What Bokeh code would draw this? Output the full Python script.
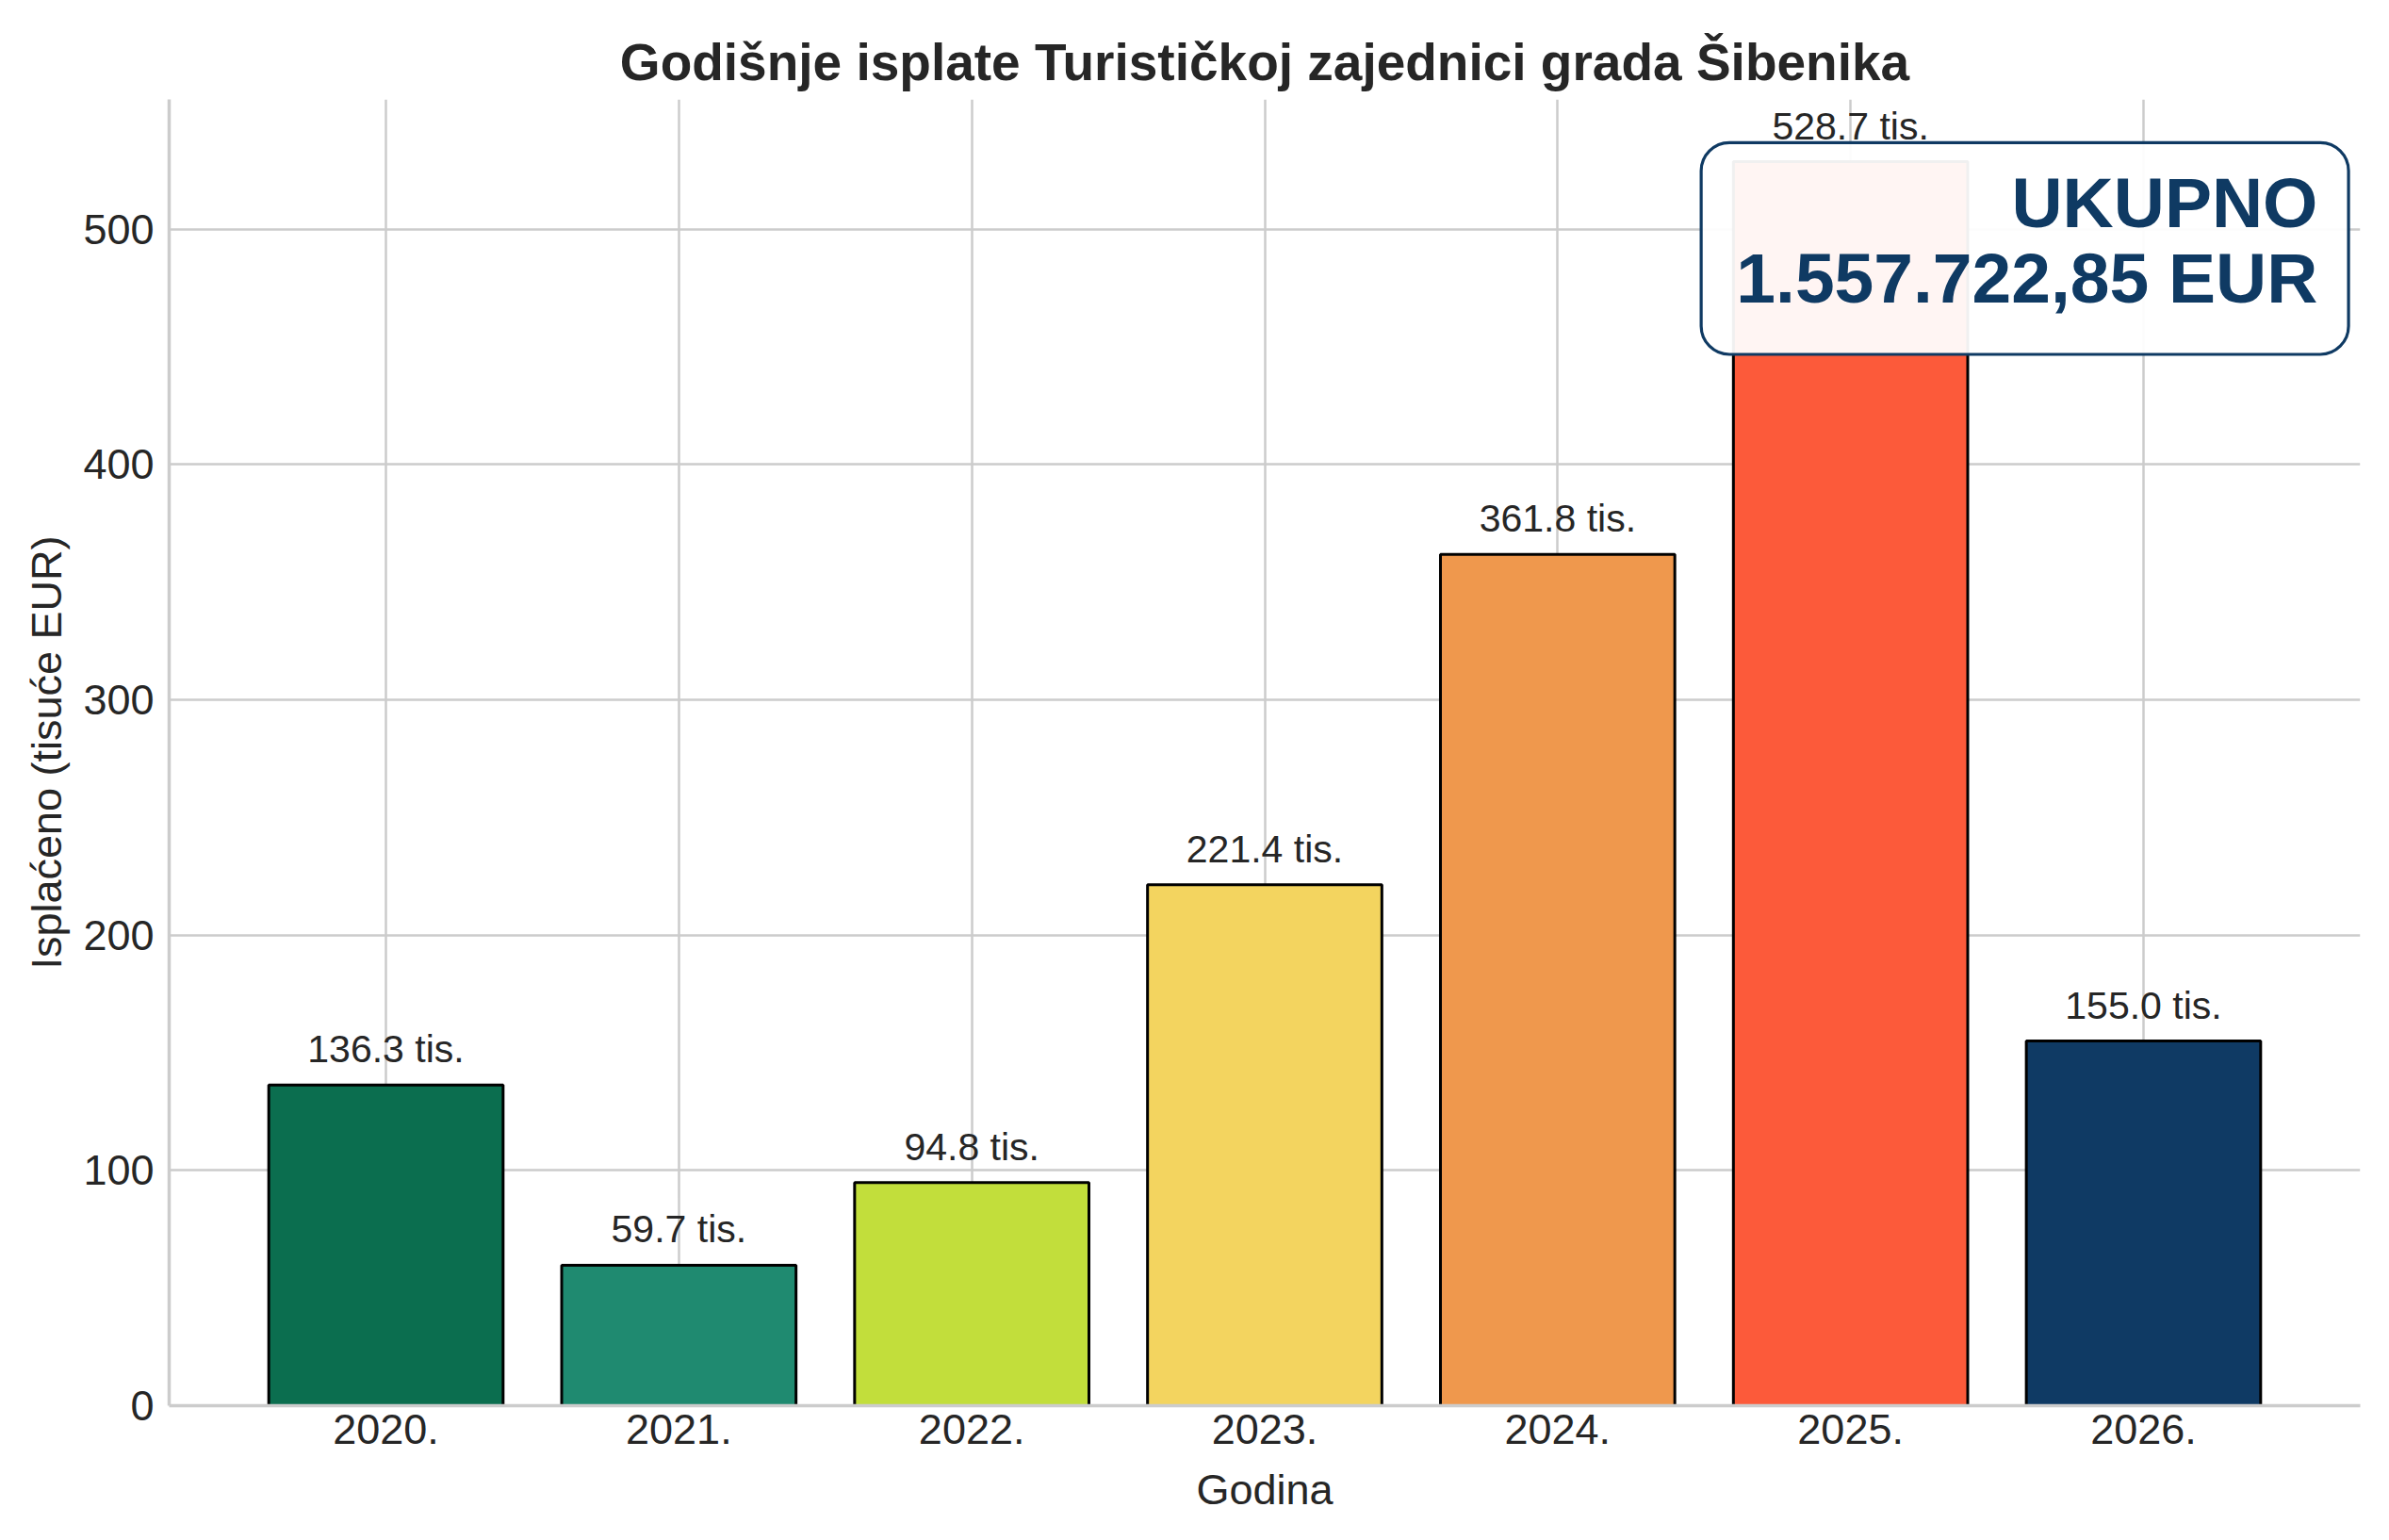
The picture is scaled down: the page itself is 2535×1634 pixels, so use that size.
from bokeh.plotting import figure
from bokeh.models import Range1d, FixedTicker, BoxAnnotation, Label, ColumnDataSource
from bokeh.core.properties import value
from bokeh.embed import file_html
from bokeh.resources import INLINE

years = ["2020.", "2021.", "2022.", "2023.", "2024.", "2025.", "2026."]
paid_k = [136.3, 59.7, 94.8, 221.4, 361.8, 528.7, 155.0]
bar_colors = ["#0B6E4F", "#1F8A70", "#C2DE3B", "#F3D45F", "#EF984D", "#FC5A3A", "#0F3A64"]
y_ticks = [0, 100, 200, 300, 400, 500]
title_text = "Godišnje isplate Turističkoj zajednici grada Šibenika"
total_line1 = "UKUPNO"
total_line2 = "1.557.722,85 EUR"

FONT = "Liberation Sans"
TXT = "#262626"
GRID = "#cccccc"
NAVY = "#0F3A63"

idx = list(range(len(years)))
ymax = max(paid_k) * 1.05
labels = [f"{v:.1f} tis." for v in paid_k]
label_y = [v + ymax * 0.0274 for v in paid_k]

src = ColumnDataSource(dict(x=idx, top=paid_k, color=bar_colors, ly=label_y, lab=labels))

p = figure(width=2519, height=1618, output_backend="svg", toolbar_location=None,
           x_range=Range1d(-0.74, 6.74), y_range=Range1d(0, ymax),
           min_border_left=179, min_border_right=15, min_border_top=105, min_border_bottom=127)

p.title.text = title_text
p.title.text_font = FONT
p.title.text_font_size = "55px"
p.title.text_font_style = "bold"
p.title.text_color = TXT
p.title.align = "center"
p.title.standoff = 18

p.outline_line_color = None
p.background_fill_color = "white"
p.border_fill_color = "white"

p.xgrid.ticker = FixedTicker(ticks=idx)
p.ygrid.ticker = FixedTicker(ticks=y_ticks)
for g in (p.xgrid, p.ygrid):
    g.grid_line_color = GRID
    g.grid_line_width = 2.5

p.xaxis.ticker = FixedTicker(ticks=idx)
p.xaxis.major_label_overrides = {i: y for i, y in zip(idx, years)}
p.yaxis.ticker = FixedTicker(ticks=y_ticks)

for ax in (p.xaxis, p.yaxis):
    ax.axis_line_color = GRID
    ax.axis_line_width = 3.5
    ax.major_tick_line_color = None
    ax.minor_tick_line_color = None
    ax.major_tick_out = 0
    ax.major_tick_in = 0
    ax.minor_tick_out = 0
    ax.major_label_text_font = FONT
    ax.major_label_text_font_size = "45px"
    ax.major_label_text_color = TXT
    ax.axis_label_text_font = FONT
    ax.axis_label_text_font_size = "45px"
    ax.axis_label_text_font_style = "normal"
    ax.axis_label_text_color = TXT

p.xaxis.axis_label = "Godina"
p.yaxis.axis_label = "Isplaćeno (tisuće EUR)"
p.xaxis.major_label_standoff = 9
p.xaxis.axis_label_standoff = 20
p.yaxis.major_label_standoff = 16
p.yaxis.axis_label_standoff = 10

p.vbar(x="x", top="top", width=0.8, bottom=0, source=src,
       fill_color="color", line_color="black", line_width=3)

p.text(x="x", y="ly", text="lab", source=src, text_font=value(FONT), text_font_size="41px",
       text_align="center", text_baseline="alphabetic", text_color=TXT)

box = BoxAnnotation(left=4.49, right=6.70, top=536.8, bottom=446.8,
                    fill_color="white", fill_alpha=0.94,
                    line_color=NAVY, line_alpha=1.0, line_width=3.2, border_radius=30)
p.add_layout(box)

p.add_layout(Label(x=6.595, y=511.2, text=total_line1, text_font=FONT, text_font_size="75px",
                   text_font_style="bold", text_color=NAVY, text_align="right",
                   text_baseline="alphabetic"))
p.add_layout(Label(x=6.595, y=479.2, text=total_line2, text_font=FONT, text_font_size="75px",
                   text_font_style="bold", text_color=NAVY, text_align="right",
                   text_baseline="alphabetic"))

open("out.html", "w").write(file_html(p, INLINE))
